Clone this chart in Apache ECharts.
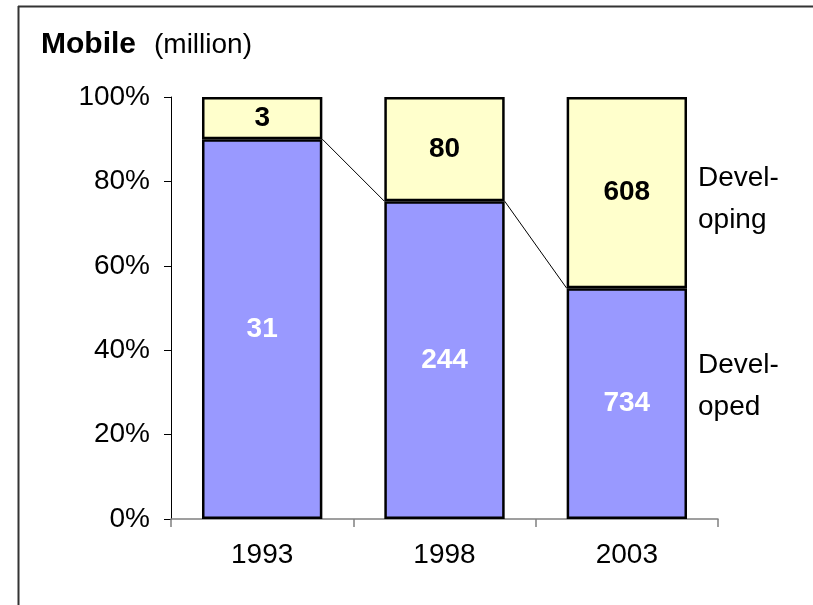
<!DOCTYPE html>
<html>
<head>
<meta charset="utf-8">
<script src="https://cdn.jsdelivr.net/npm/echarts@6/dist/echarts.min.js"></script>
<style>
html,body{margin:0;padding:0;background:#fff;overflow:hidden;}
#chart{width:813px;height:605px;}
</style>
</head>
<body>
<div id="chart"></div>
<script>
// Data (million subscribers); labels show rounded values
var years = ['1993', '1998', '2003'];
var developed = [30.6, 244, 734];
var developing = [3.4, 80, 608];
var yTicks = [0, 20, 40, 60, 80, 100];
var chartTitle = 'Mobile';
var chartUnit = '(million)';
var seriesNames = ['Devel-\noped', 'Devel-\noping'];

var FONT = 'Liberation Sans, Arial, Helvetica, sans-serif';
var totals = years.map(function (_, i) { return developed[i] + developing[i]; });
var devPct = developed.map(function (v, i) { return v / totals[i] * 100; });
var dvgPct = developing.map(function (v, i) { return v / totals[i] * 100; });

var linkData = [];
for (var i = 0; i < years.length - 1; i++) {
  linkData.push([i, devPct[i], devPct[i + 1]]);
}

var chart = echarts.init(document.getElementById('chart'), null, { renderer: 'canvas' });
var BAR_FRAC = 0.66;

chart.setOption({
  animation: false,
  backgroundColor: '#ffffff',
  textStyle: { fontFamily: FONT },
  grid: { left: 171, right: 95, top: 97, bottom: 86, containLabel: false },
  graphic: [
    {
      type: 'line', silent: true,
      shape: { x1: 18, y1: 6.5, x2: 813, y2: 6.5 },
      style: { stroke: '#333', lineWidth: 2 }
    },
    {
      type: 'line', silent: true,
      shape: { x1: 18.5, y1: 6, x2: 18.5, y2: 605 },
      style: { stroke: '#333', lineWidth: 2 }
    },
    {
      type: 'text', x: 41, y: 30,
      style: { text: chartTitle, fontFamily: FONT, fontSize: 30, fontWeight: 'bold', fill: '#000' }
    },
    {
      type: 'text', x: 154, y: 31,
      style: { text: chartUnit, fontFamily: FONT, fontSize: 28, fill: '#000' }
    },
    {
      type: 'text', x: 698, y: 157,
      style: { text: seriesNames[1], fontFamily: FONT, fontSize: 28, lineHeight: 42, fill: '#000' }
    },
    {
      type: 'text', x: 698, y: 344,
      style: { text: seriesNames[0], fontFamily: FONT, fontSize: 28, lineHeight: 42, fill: '#000' }
    }
  ],
  xAxis: {
    type: 'category',
    data: years,
    boundaryGap: true,
    axisLine: { show: true, lineStyle: { color: '#808080', width: 1.5 } },
    axisTick: { show: true, length: 8, lineStyle: { color: '#808080', width: 1.5 } },
    axisLabel: { fontFamily: FONT, fontSize: 28, color: '#000', margin: 22 },
    splitLine: { show: false }
  },
  yAxis: {
    type: 'value',
    min: 0, max: 100, interval: 20,
    axisLine: { show: true, lineStyle: { color: '#000', width: 1 } },
    axisTick: { show: true, inside: false, length: 7, lineStyle: { color: '#000', width: 1 } },
    axisLabel: {
      fontFamily: FONT, fontSize: 28, color: '#000', margin: 21,
      formatter: function (v) { return yTicks.indexOf(v) >= 0 ? v + '%' : ''; }
    },
    splitLine: { show: false }
  },
  series: [
    {
      name: 'Developed', type: 'bar', stack: 'total',
      barWidth: (BAR_FRAC * 100) + '%',
      data: devPct,
      itemStyle: { color: '#9999FF', borderColor: '#000', borderWidth: 2.5 },
      label: {
        show: true, position: 'inside', fontFamily: FONT, fontSize: 28, fontWeight: 'bold', color: '#fff',
        formatter: function (p) { return Math.round(developed[p.dataIndex]); }
      },
      z: 2
    },
    {
      name: 'Developing', type: 'bar', stack: 'total',
      barWidth: (BAR_FRAC * 100) + '%',
      data: dvgPct,
      itemStyle: { color: '#FFFFCC', borderColor: '#000', borderWidth: 2.5 },
      label: {
        show: true, position: 'inside', fontFamily: FONT, fontSize: 28, fontWeight: 'bold', color: '#000',
        formatter: function (p) { return Math.round(developing[p.dataIndex]); }
      },
      z: 2
    },
    {
      name: 'links', type: 'custom',
      data: linkData,
      encode: { x: 0, y: 1 },
      z: 1,
      silent: true,
      renderItem: function (params, api) {
        var i0 = api.value(0);
        var p1 = api.coord([i0, api.value(1)]);
        var p2 = api.coord([i0 + 1, api.value(2)]);
        var band = api.size([1, 0])[0];
        var hw = band * BAR_FRAC / 2;
        return {
          type: 'line',
          shape: { x1: p1[0] + hw, y1: p1[1], x2: p2[0] - hw, y2: p2[1] },
          style: { stroke: '#000', lineWidth: 1 }
        };
      }
    }
  ]
});
</script>
</body>
</html>
